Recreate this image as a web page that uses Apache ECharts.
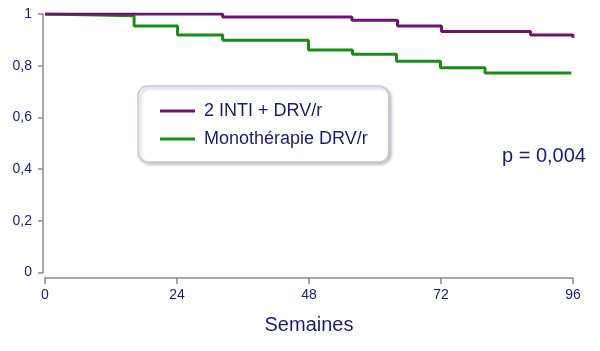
<!DOCTYPE html>
<html>
<head>
<meta charset="utf-8">
<script src="https://cdn.jsdelivr.net/npm/echarts@6/dist/echarts.min.js"></script>
<style>
  html, body { margin: 0; padding: 0; background: #fff; }
  #chart { width: 600px; height: 351px; }
</style>
</head>
<body>
<div id="chart"></div>
<script>
// Kaplan-Meier curves (weeks, survival probability)
const seriesNames = ['2 INTI + DRV/r', 'Monothérapie DRV/r'];
const intiWeeks = [0, 32.3, 55.8, 64.1, 72.1, 88.3, 96];
const intiValues = [1, 0.988, 0.976, 0.954, 0.932, 0.919, 0.908];
const monoWeeks = [0, 0.4, 16.2, 24.1, 32.3, 47.9, 55.9, 63.9, 71.9, 80, 95.7];
const monoValues = [1, 0.993, 0.954, 0.919, 0.898, 0.861, 0.844, 0.817, 0.792, 0.772, 0.772];
const xTicks = [0, 24, 48, 72, 96];
const pValueText = 'p = 0,004';

const navy = '#1c1c70';
const font = "'Liberation Sans', Arial, sans-serif";

const pairs = (xs, ys) => xs.map((x, i) => [x, ys[i]]);

const chart = echarts.init(document.getElementById('chart'), null, { renderer: 'canvas' });

chart.setOption({
    animation: false,
    textStyle: { fontFamily: font, color: navy },
    grid: { left: 45, right: 27, top: 14, bottom: 78.5 },
    xAxis: {
        type: 'value',
        min: 0,
        max: 96,
        interval: 24,
        offset: 5.5,
        name: 'Semaines',
        nameLocation: 'middle',
        nameGap: 37,
        nameTextStyle: { fontSize: 20, color: navy, fontFamily: font },
        axisLine: { onZero: false, lineStyle: { color: '#8a8a8a', width: 1.5 } },
        axisTick: { length: 6, lineStyle: { color: '#8a8a8a', width: 1.5 } },
        axisLabel: {
            fontSize: 14, color: navy, margin: 10,
            formatter: (v) => xTicks.includes(v) ? String(v) : ''
        },
        splitLine: { show: false }
    },
    yAxis: {
        type: 'value',
        min: 0,
        max: 1,
        interval: 0.2,
        offset: 2,
        axisLine: { show: true, onZero: false, lineStyle: { color: '#8a8a8a', width: 1.5 } },
        axisTick: { show: true, length: 5, lineStyle: { color: '#8a8a8a', width: 1.5 } },
        axisLabel: {
            fontSize: 14, color: navy, margin: 11,
            formatter: (v) => String(Math.round(v * 10) / 10).replace('.', ',')
        },
        splitLine: { show: false }
    },
    legend: {
        orient: 'vertical',
        left: 138,
        top: 86,
        data: seriesNames,
        icon: 'path://M0,0 L35,0 L35,3 L0,3 Z',
        itemWidth: 35,
        itemHeight: 3,
        itemGap: 8,
        padding: [15, 21, 13, 22],
        backgroundColor: '#ffffff',
        borderColor: '#c6c9e2',
        borderWidth: 1.5,
        borderRadius: 10,
        shadowColor: 'rgba(120,120,140,0.45)',
        shadowBlur: 3,
        shadowOffsetX: 2,
        shadowOffsetY: 2,
        textStyle: { fontSize: 18, color: navy, lineHeight: 20, padding: [0, 0, 0, 4], fontFamily: font }
    },
    graphic: [
        {
            type: 'text',
            left: 502,
            top: 146,
            style: { text: pValueText, fontSize: 20, fill: navy, fontFamily: font }
        }
    ],
    series: [
        {
            name: seriesNames[0],
            type: 'line',
            step: 'end',
            symbol: 'none',
            data: pairs(intiWeeks, intiValues),
            lineStyle: { color: '#6e1470', width: 3 },
            itemStyle: { color: '#6e1470' },
            z: 3
        },
        {
            name: seriesNames[1],
            type: 'line',
            step: 'end',
            symbol: 'none',
            data: pairs(monoWeeks, monoValues),
            lineStyle: { color: '#1b8a1b', width: 3 },
            itemStyle: { color: '#1b8a1b' },
            z: 2
        }
    ]
});
</script>
</body>
</html>
